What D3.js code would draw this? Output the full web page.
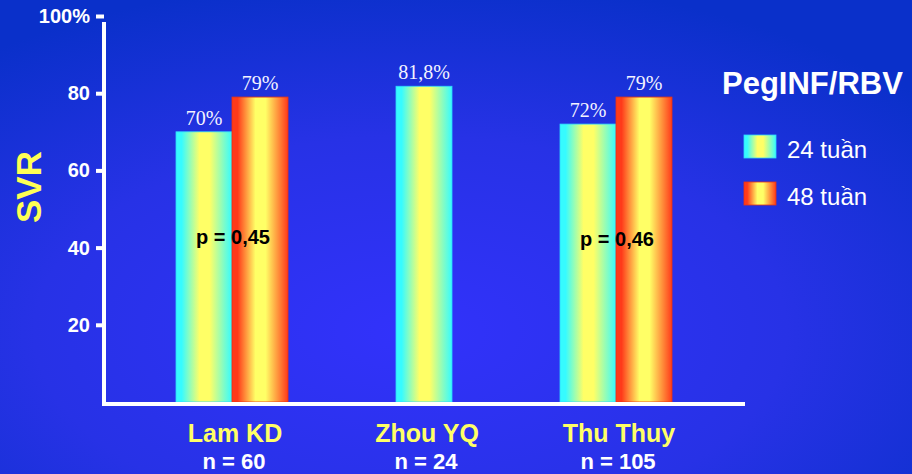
<!DOCTYPE html>
<html>
<head>
<meta charset="utf-8">
<script src="https://cdn.jsdelivr.net/npm/d3@7"></script>
<style>
  html, body { margin: 0; padding: 0; background: #1a30d8; }
  svg { display: block; }
  text { font-family: "Liberation Sans", Arial, sans-serif; }
</style>
</head>
<body>
<svg id="chart" width="912" height="474"></svg>
<script>
// Sustained virological response by study and treatment duration
const categories = ["Lam KD", "Zhou YQ", "Thu Thuy"];
const sampleSizes = ["n = 60", "n = 24", "n = 105"];
const seriesNames = ["24 tuần", "48 tuần"];
const weeks24 = [70, 81.8, 72];
const weeks48 = [79, null, 79];
const pLabels = ["p = 0,45", null, "p = 0,46"];
const yTicks = [20, 40, 60, 80, 100];

const svg = d3.select("#chart");
const W = 912, H = 474;
const defs = svg.append("defs");

// background: bright violet-blue centre fading to deeper blue at the edges
const bg = defs.append("radialGradient").attr("id", "bg")
  .attr("cx", "45%").attr("cy", "70%").attr("r", "75%");
bg.append("stop").attr("offset", "0%").attr("stop-color", "#3232fb");
bg.append("stop").attr("offset", "55%").attr("stop-color", "#2732e6");
bg.append("stop").attr("offset", "100%").attr("stop-color", "#0a30ca");
svg.append("rect").attr("width", W).attr("height", H).attr("fill", "url(#bg)");

// bar fills: horizontal two-colour gradients
function barGradient(id, edge, mid) {
  const g = defs.append("linearGradient").attr("id", id)
    .attr("x1", "0%").attr("x2", "100%").attr("y1", "0%").attr("y2", "0%");
  g.append("stop").attr("offset", "0%").attr("stop-color", edge);
  g.append("stop").attr("offset", "10%").attr("stop-color", edge);
  g.append("stop").attr("offset", "42%").attr("stop-color", mid);
  g.append("stop").attr("offset", "60%").attr("stop-color", mid);
  g.append("stop").attr("offset", "100%").attr("stop-color", edge);
}
barGradient("g24", "#36fbff", "#ffff66");
barGradient("g48", "#ff3a1a", "#ffff66");
const fills = ["url(#g24)", "url(#g48)"];
const strokes = ["#2fd8ff", "#e83414"];

const y = d3.scaleLinear().domain([0, 100]).range([402, 16]);
const x = d3.scalePoint().domain(categories).range([232, 616]);
const barW = 56;
const axisX = 104;

// bars
const rows = categories.map((c, i) => ({
  cat: c, vals: [weeks24[i], weeks48[i]]
}));
rows.forEach(r => {
  const present = r.vals.map((v, s) => ({ v, s })).filter(d => d.v != null);
  const start = x(r.cat) - present.length * barW / 2;
  present.forEach((d, k) => {
    const bx = start + k * barW;
    svg.append("rect")
      .attr("x", bx).attr("y", y(d.v))
      .attr("width", barW).attr("height", y(0) - y(d.v))
      .attr("fill", fills[d.s])
      .attr("stroke", strokes[d.s]).attr("stroke-width", 0.8);
    svg.append("text")
      .attr("x", bx + barW / 2).attr("y", y(d.v) - 7)
      .attr("text-anchor", "middle")
      .style("font-family", "'Liberation Serif', 'Times New Roman', serif")
      .style("font-size", "20px")
      .attr("fill", "#f4f4ff")
      .text(String(d.v).replace(".", ",") + "%");
  });
});

// p-values
categories.forEach((c, i) => {
  if (!pLabels[i]) return;
  svg.append("text")
    .attr("x", x(c) + 1).attr("y", y(41) + (i === 2 ? 2 : 0))
    .attr("text-anchor", "middle")
    .style("font-size", "20px").style("font-weight", "bold")
    .attr("fill", "#000")
    .text(pLabels[i]);
});

// y axis
const yAxis = d3.axisLeft(y)
  .tickValues(yTicks)
  .tickFormat(d => d === 100 ? "100%" : d)
  .tickSize(8).tickSizeOuter(0).tickPadding(6);
const ga = svg.append("g").attr("transform", `translate(${axisX},0)`).call(yAxis);
ga.select(".domain").remove();
ga.selectAll(".tick line").attr("stroke", "#fff").attr("stroke-width", 4);
ga.selectAll(".tick text")
  .attr("fill", "#fff")
  .style("font-family", "'Liberation Sans', Arial, sans-serif")
  .style("font-size", "20px").style("font-weight", "bold");
svg.append("line")
  .attr("x1", axisX).attr("x2", axisX)
  .attr("y1", y(100) + 6).attr("y2", y(0) + 4)
  .attr("stroke", "#fff").attr("stroke-width", 4);

// x axis baseline
svg.append("line")
  .attr("x1", axisX - 2).attr("x2", 745)
  .attr("y1", y(0) + 2).attr("y2", y(0) + 2)
  .attr("stroke", "#fff").attr("stroke-width", 4);

// category labels
categories.forEach((c, i) => {
  svg.append("text")
    .attr("x", x(c) + 3).attr("y", 442)
    .attr("text-anchor", "middle")
    .style("font-size", "25px").style("font-weight", "bold")
    .attr("fill", "#ffff66")
    .text(c);
  svg.append("text")
    .attr("x", x(c) + 2).attr("y", 469)
    .attr("text-anchor", "middle")
    .style("font-size", "22px").style("font-weight", "bold")
    .attr("fill", "#fff")
    .text(sampleSizes[i]);
});

// y axis title
svg.append("text")
  .attr("transform", "translate(41,187) rotate(-90)")
  .attr("text-anchor", "middle")
  .style("font-size", "35px").style("font-weight", "bold")
  .attr("fill", "#ffff55")
  .text("SVR");

// legend
svg.append("text")
  .attr("x", 722).attr("y", 94)
  .style("font-size", "31px").style("font-weight", "bold")
  .attr("fill", "#fff")
  .text("PegINF/RBV");
seriesNames.forEach((s, i) => {
  const ly = 135 + i * 47;
  svg.append("rect")
    .attr("x", 744).attr("y", ly).attr("width", 32).attr("height", 23)
    .attr("fill", fills[i]).attr("stroke", strokes[i]).attr("stroke-width", 0.8);
  svg.append("text")
    .attr("x", 787).attr("y", ly + 23)
    .style("font-size", "24px")
    .attr("fill", "#fff")
    .text(s);
});
</script>
</body>
</html>
